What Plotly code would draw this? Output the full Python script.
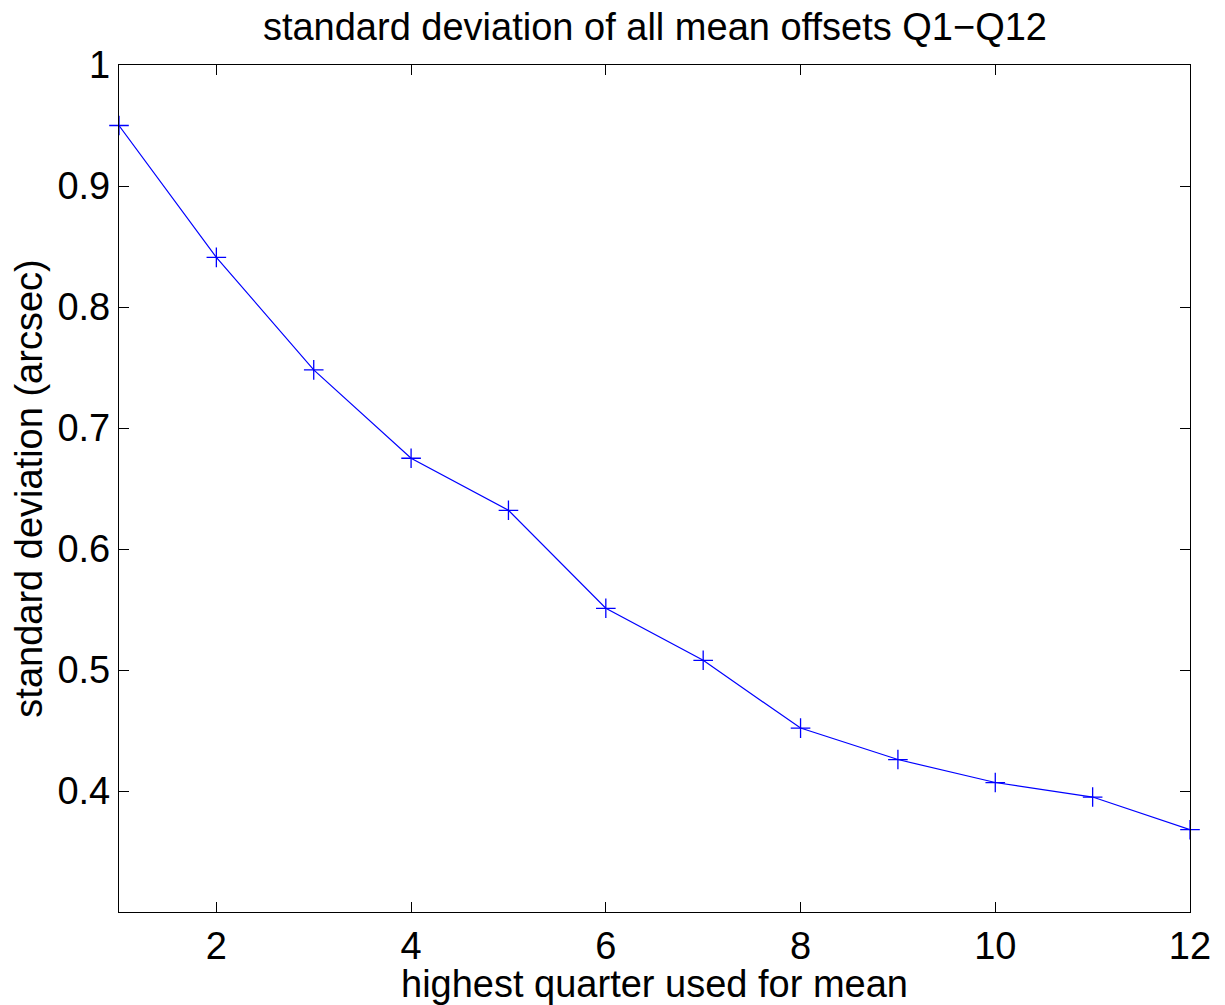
import plotly.graph_objects as go

quarters = [1, 2, 3, 4, 5, 6, 7, 8, 9, 10, 11, 12]
std_dev = [0.950, 0.841, 0.748, 0.675, 0.632, 0.551, 0.508, 0.452, 0.426, 0.407, 0.395, 0.368]
x_ticks = [2, 4, 6, 8, 10, 12]
y_ticks = [0.4, 0.5, 0.6, 0.7, 0.8, 0.9, 1.0]
y_tick_labels = ["0.4", "0.5", "0.6", "0.7", "0.8", "0.9", "1"]

fig = go.Figure()
fig.add_trace(go.Scatter(
    x=quarters, y=std_dev, mode="lines+markers",
    line=dict(color="#0000ff", width=1.2),
    marker=dict(symbol="cross-thin", size=14, line=dict(color="#0000ff", width=1.3)),
    cliponaxis=False, showlegend=False,
))

font_family = "Liberation Sans, Arial, sans-serif"
FS = 38
axis_common = dict(
    showline=True, linecolor="black", linewidth=1.3, mirror="ticks",
    ticks="inside", ticklen=10, tickwidth=1, tickcolor="black",
    showgrid=False, zeroline=False,
    tickfont=dict(family=font_family, size=FS, color="black"),
)
fig.update_layout(
    width=1217, height=997,
    margin=dict(l=111, r=35, t=57, b=87),
    paper_bgcolor="white", plot_bgcolor="white",
    title=dict(text="standard deviation of all mean offsets Q1\u2212Q12",
               x=0.5316, xanchor="center", y=1.0, yanchor="top",
               pad=dict(t=5),
               font=dict(family=font_family, size=FS, color="black")),
    xaxis=dict(range=[1, 12], tickvals=x_ticks,
               title=dict(text="highest quarter used for mean", standoff=0,
                          font=dict(family=font_family, size=FS, color="black")),
               **axis_common),
    yaxis=dict(range=[0.3, 1.0], tickvals=y_ticks, ticktext=y_tick_labels,
               title=dict(text="standard deviation (arcsec)", standoff=4,
                          font=dict(family=font_family, size=FS, color="black")),
               **axis_common),
)
fig.write_html("out.html")
